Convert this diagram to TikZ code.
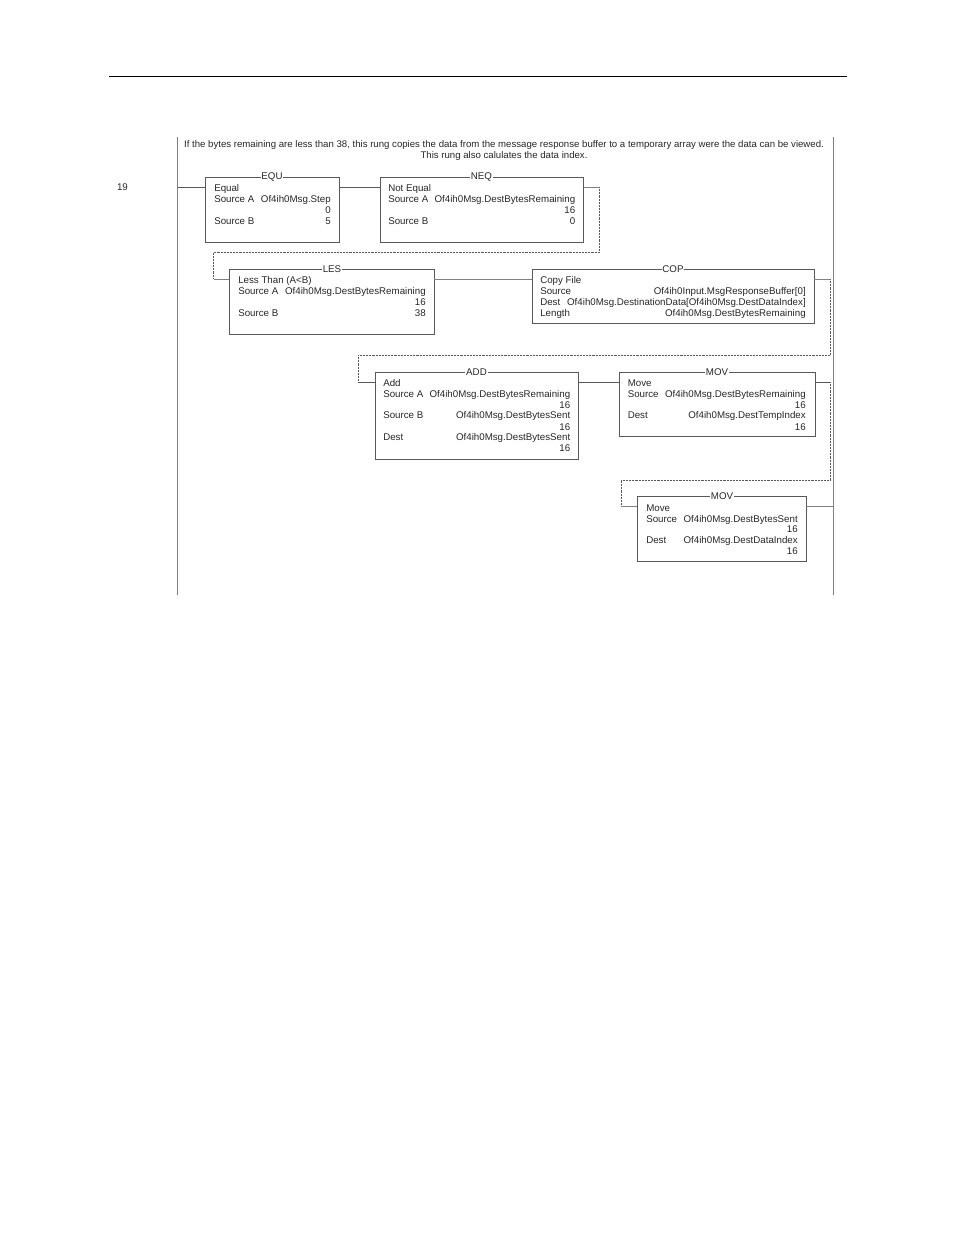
\documentclass[tikz,border=0pt]{standalone}
\usepackage{fontspec}
\setmainfont{Liberation Sans}
\usetikzlibrary{calc}
\usetikzlibrary{positioning}
\definecolor{railgray}{gray}{0.5}
\definecolor{wiregray}{gray}{0.35}
\definecolor{inkgray}{gray}{0.15}
\tikzset{
    rungbox/.style={draw=wiregray, line width=0.7pt, inner sep=0pt},
    boxtitle/.style={fill=white, inner sep=0.6pt, text=inkgray},
    rowtext/.style={anchor=base west, inner sep=0pt, text=inkgray},
    valtext/.style={anchor=base east, inner sep=0pt, text=inkgray},
    rail/.style={draw=railgray, line width=0.7pt},
    rung/.style={draw=wiregray, line width=0.9pt},
    thinrung/.style={draw=railgray, line width=0.5pt},
    jump/.style={draw=wiregray, line width=0.7pt, dash pattern=on 0.7pt off 0.4pt}
}
\begin{document}
\begin{tikzpicture}[x=0.75pt, y=-0.75pt, font=\fontsize{7.3}{8.25}\selectfont]
        \useasboundingbox (0,0) rectangle (954,1235);
        % Page rule
        \coordinate (ruleL) at (109,76);
        \coordinate (ruleR) at (847,76);
        \draw[line width=0.7pt] (ruleL) -- (ruleR);
        % Power rails
        \coordinate (railLtop) at (177.5,137);
        \coordinate (railLbot) at (177.5,595);
        \coordinate (railRtop) at (833.5,137);
        \coordinate (railRbot) at (833.5,595);
        \draw[rail] (railLtop) -- (railLbot);
        \draw[rail] (railRtop) -- (railRbot);
        % Rung comment and number
        \node[align=center, inner sep=0pt, text=inkgray, font=\fontsize{7.22}{8.25}\selectfont] (comment) at (504,150.5) {If the bytes remaining are less than 38, this rung copies the data from the message response buffer to a temporary array were the data can be viewed.\\This rung also calulates the data index.};
        \node[inner sep=0pt, text=inkgray] (rungno) at (122.5,187.5) {19};
        % Instruction boxes
        \foreach \nm/\xa/\ya/\xb/\yb/\ttl/\tx in {
            equ/205.5/177/339.5/242/EQU/272,
            neq/380/177/583.5/242/NEQ/481.5,
            les/229.5/269/434/334/LES/332,
            cop/532/269/814/323/COP/673,
            add/375/372/578.5/459/ADD/476.5,
            mova/619/372/815/436/MOV/717,
            movb/637.5/496/806/561/MOV/722} {
            \node[rungbox, minimum width={(\xb-\xa)*0.75pt}, minimum height={(\yb-\ya)*0.75pt}] (\nm) at ({(\xa+\xb)/2},{(\ya+\yb)/2}) {};
            \node[boxtitle] (\nm-title) at (\tx,\ya) {\ttl};
            \coordinate (\nm-l) at ([yshift=-8pt]\nm.north west);
            \coordinate (\nm-r) at ([yshift=-8pt]\nm.north east);
        }
        % Row labels, left side
        \foreach \nm/\xx/\yy/\txt in {
            equa/214/191.5/Equal, equb/214/202.5/Source A, equc/214/224/Source B,
            neqa/388/191.5/Not Equal, neqb/388/202.5/Source A, neqc/388/224/Source B,
            lesa/238/283.5/Less Than (A<B), lesb/238/294.5/Source A, lesc/238/316/Source B,
            copa/540/283.5/Copy File, copb/540/294.5/Source, copc/540/305/Dest, copd/540/316/Length,
            adda/383/386/Add, addb/383/397.5/Source A, addc/383/418.5/Source B, addd/383/440.5/Dest,
            movaa/627.5/386/Move, movab/627.5/397.5/Source, movac/627.5/418.5/Dest,
            movba/646/511/Move, movbb/646/522/Source, movbc/646/543/Dest} {
            \node[rowtext] (\nm) at (\xx,\yy) {\txt};
        }
        % Row values, right side
        \foreach \nm/\xx/\yy/\txt in {
            equv/331/202.5/Of4ih0Msg.Step, equw/331/213.5/0, equx/331/224/5,
            neqv/575.5/202.5/Of4ih0Msg.DestBytesRemaining, neqw/575.5/213.5/16, neqx/575.5/224/0,
            lesv/426/294.5/Of4ih0Msg.DestBytesRemaining, lesw/426/305/16, lesx/426/316/38,
            copv/806/294.5/Of4ih0Input.MsgResponseBuffer[0],
            copw/806/305/Of4ih0Msg.DestinationData[Of4ih0Msg.DestDataIndex],
            copx/806/316/Of4ih0Msg.DestBytesRemaining,
            addv/570.5/397.5/Of4ih0Msg.DestBytesRemaining, addw/570.5/408/16,
            addx/570.5/418.5/Of4ih0Msg.DestBytesSent, addy/570.5/430/16,
            addz/570.5/440.5/Of4ih0Msg.DestBytesSent, addq/570.5/451.5/16,
            movav/806/397.5/Of4ih0Msg.DestBytesRemaining, movaw/806/408/16,
            movax/806/418.5/Of4ih0Msg.DestTempIndex, movay/806/430/16,
            movbv/798/522/Of4ih0Msg.DestBytesSent, movbw/798/532.5/16,
            movbx/798/543/Of4ih0Msg.DestDataIndex, movby/798/554/16} {
            \node[valtext] (\nm) at (\xx,\yy) {\txt};
        }
        % Rung wires
        \draw[rung] (railLtop |- equ-l) -- (equ-l);
        \draw[rung] (equ-r) -- (neq-l);
        \draw[thinrung] (les-r) -- (cop-l);
        \draw[rung] (add-r) -- (mova-l);
        \draw[thinrung] (movb-r) -- (railRtop |- movb-r);
        % Wrap from NEQ to LES
        \coordinate (wrapa) at (599.5,252.5);
        \coordinate (wrapb) at (213.5,252.5);
        \draw[thinrung] (neq-r) -- (neq-r -| wrapa);
        \draw[jump] (neq-r -| wrapa) -- (wrapa) -- (wrapb) -- (wrapb |- les-l);
        \draw[thinrung] (wrapb |- les-l) -- (les-l);
        % Wrap from COP to ADD
        \coordinate (wrapc) at (830.5,355);
        \coordinate (wrapd) at (358,355);
        \draw[thinrung] (cop-r) -- (cop-r -| wrapc);
        \draw[jump] (cop-r -| wrapc) -- (wrapc) -- (wrapd) -- (wrapd |- add-l);
        \draw[rung] (wrapd |- add-l) -- (add-l);
        % Wrap from first MOV to second MOV
        \coordinate (wrape) at (830.5,480.5);
        \coordinate (wrapf) at (621,480.5);
        \draw[rung] (mova-r) -- (mova-r -| wrape);
        \draw[jump] (mova-r -| wrape) -- (wrape) -- (wrapf) -- (wrapf |- movb-l);
        \draw[thinrung] (wrapf |- movb-l) -- (movb-l);
    \end{tikzpicture}
\end{document}
